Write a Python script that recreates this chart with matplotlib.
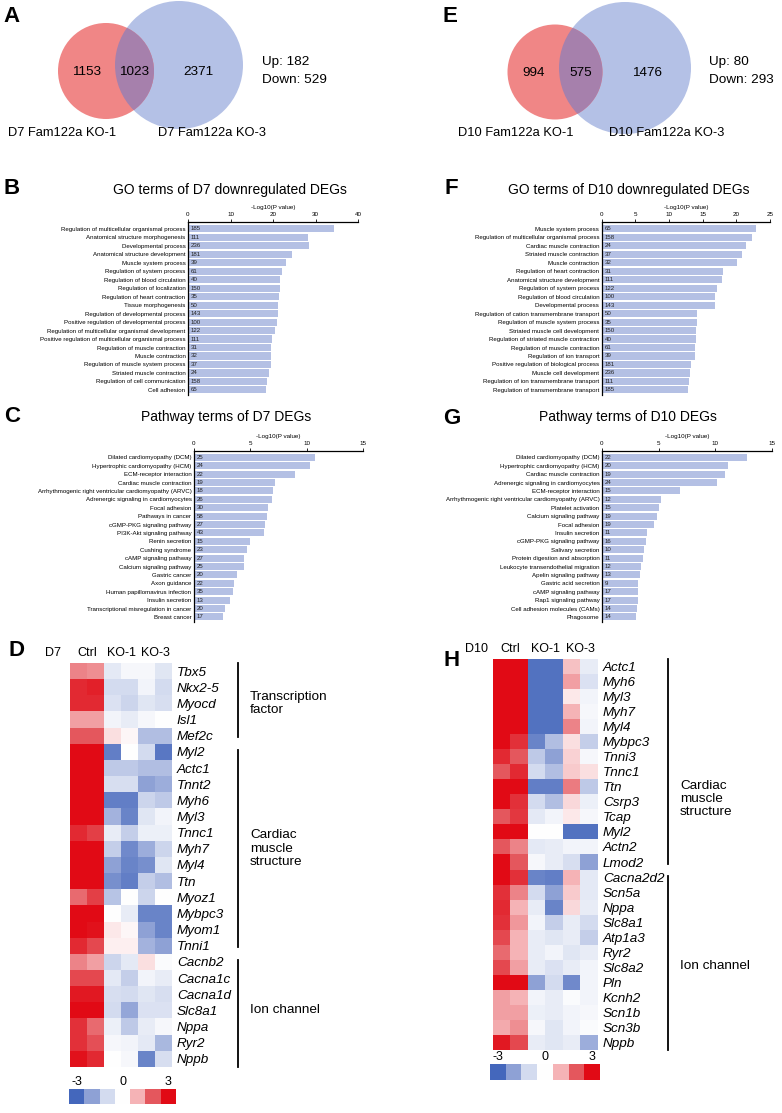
import numpy as np
import matplotlib
matplotlib.use('Agg')
import matplotlib.pyplot as plt
from matplotlib.colors import LinearSegmentedColormap
from matplotlib.patches import Circle

plt.rcParams['font.family'] = ['Liberation Sans', 'DejaVu Sans']

W, H = 782, 1113

# ---- Venn data ----
d7_venn = [1153, 1023, 2371]
d7_names = ['D7 Fam122a KO-1', 'D7 Fam122a KO-3']
d7_updown = [182, 529]
d10_venn = [994, 575, 1476]
d10_names = ['D10 Fam122a KO-1', 'D10 Fam122a KO-3']
d10_updown = [80, 293]

# ---- GO / pathway bars ----
go_d7_terms = ['Regulation of multicellular organismal process', 'Anatomical structure morphogenesis',
               'Developmental process', 'Anatomical structure development', 'Muscle system process',
               'Regulation of system process', 'Regulation of blood circulation', 'Regulation of localization',
               'Regulation of heart contraction', 'Tissue morphogenesis', 'Regulation of developmental process',
               'Positive regulation of developmental process', 'Regulation of multicellular organismal development',
               'Positive regulation of multicellular organismal process', 'Regulation of muscle contraction',
               'Muscle contraction', 'Regulation of muscle system process', 'Striated muscle contraction',
               'Regulation of cell communication', 'Cell adhesion']
go_d7_vals = [34.4, 28.3, 28.5, 24.4, 23.0, 22.0, 21.6, 21.6, 21.5, 21.1,
              21.1, 21.0, 20.5, 19.7, 19.6, 19.5, 19.5, 19.0, 18.6, 18.4]
go_d7_counts = [185, 111, 236, 181, 39, 61, 40, 150, 35, 50,
                143, 100, 122, 111, 31, 32, 37, 24, 158, 65]

go_d10_terms = ['Muscle system process', 'Regulation of multicellular organismal process',
                'Cardiac muscle contraction', 'Striated muscle contraction', 'Muscle contraction',
                'Regulation of heart contraction', 'Anatomical structure development', 'Regulation of system process',
                'Regulation of blood circulation', 'Developmental process',
                'Regulation of cation transmembrane transport', 'Regulation of muscle system process',
                'Striated muscle cell development', 'Regulation of striated muscle contraction',
                'Regulation of muscle contraction', 'Regulation of ion transport',
                'Positive regulation of biological process', 'Muscle cell development',
                'Regulation of ion transmembrane transport', 'Regulation of transmembrane transport']
go_d10_vals = [22.9, 22.4, 21.5, 20.8, 20.05, 18.0, 17.9, 17.1, 16.9, 16.8,
               14.2, 14.2, 13.97, 13.97, 13.9, 13.8, 13.2, 13.1, 13.0, 12.8]
go_d10_counts = [65, 158, 24, 37, 32, 31, 111, 122, 100, 143,
                 50, 35, 150, 40, 61, 39, 181, 236, 111, 185]

pw_d7_terms = ['Dilated cardiomyopathy (DCM)', 'Hypertrophic cardiomyopathy (HCM)', 'ECM-receptor interaction',
               'Cardiac muscle contraction', 'Arrhythmogenic right ventricular cardiomyopathy (ARVC)',
               'Adrenergic signaling in cardiomyocytes', 'Focal adhesion', 'Pathways in cancer',
               'cGMP-PKG signaling pathway', 'PI3K-Akt signaling pathway', 'Renin secretion', 'Cushing syndrome',
               'cAMP signaling pathway', 'Calcium signaling pathway', 'Gastric cancer', 'Axon guidance',
               'Human papillomavirus infection', 'Insulin secretion', 'Transcriptional misregulation in cancer',
               'Breast cancer']
pw_d7_vals = [10.7, 10.3, 8.96, 7.2, 6.98, 6.92, 6.6, 6.45, 6.33, 6.24,
              4.97, 4.73, 4.41, 4.41, 3.82, 3.52, 3.43, 3.17, 2.72, 2.57]
pw_d7_counts = [25, 24, 22, 19, 18, 26, 30, 58, 27, 43, 15, 23, 27, 25, 20, 22, 35, 13, 20, 17]

pw_d10_terms = ['Dilated cardiomyopathy (DCM)', 'Hypertrophic cardiomyopathy (HCM)', 'Cardiac muscle contraction',
                'Adrenergic signaling in cardiomyocytes', 'ECM-receptor interaction',
                'Arrhythmogenic right ventricular cardiomyopathy (ARVC)', 'Platelet activation',
                'Calcium signaling pathway', 'Focal adhesion', 'Insulin secretion', 'cGMP-PKG signaling pathway',
                'Salivary secretion', 'Protein digestion and absorption', 'Leukocyte transendothelial migration',
                'Apelin signaling pathway', 'Gastric acid secretion', 'cAMP signaling pathway',
                'Rap1 signaling pathway', 'Cell adhesion molecules (CAMs)', 'Phagosome']
pw_d10_vals = [12.8, 11.1, 10.87, 10.13, 6.88, 5.2, 5.02, 4.82, 4.6, 3.99,
               3.87, 3.69, 3.63, 3.46, 3.34, 3.19, 3.19, 3.19, 3.1, 2.96]
pw_d10_counts = [22, 20, 19, 24, 15, 12, 15, 19, 19, 11, 16, 10, 11, 12, 13, 9, 17, 17, 14, 14]

# ---- heatmaps (z-scores; Ctrl x2, KO-1 x2, KO-3 x2) ----
hm_cols = ['Ctrl', 'KO-1', 'KO-3']
d7_genes = ['Tbx5', 'Nkx2-5', 'Myocd', 'Isl1', 'Mef2c',
            'Myl2', 'Actc1', 'Tnnt2', 'Myh6', 'Myl3', 'Tnnc1', 'Myh7', 'Myl4', 'Ttn', 'Myoz1', 'Mybpc3',
            'Myom1', 'Tnni1',
            'Cacnb2', 'Cacna1c', 'Cacna1d', 'Slc8a1', 'Nppa', 'Ryr2', 'Nppb']
d7_groups = [('Transcription\nfactor', 5), ('Cardiac\nmuscle\nstructure', 13), ('Ion channel', 7)]
d7_z = [[1.5, 1.4, -0.6, -0.2, -0.2, -0.7],
        [2.6, 2.7, -1.0, -1.0, -0.3, -1.0],
        [2.6, 2.6, -0.8, -1.1, -0.7, -0.9],
        [1.2, 1.2, -0.3, -0.5, -0.2, 0.0],
        [2.0, 2.0, 0.4, 0.1, -1.5, -1.5],
        [3.0, 3.0, -2.6, 0.0, -1.0, -2.7],
        [3.0, 3.0, -1.3, -1.3, -1.5, -1.5],
        [3.0, 3.0, -0.9, -0.9, -2.0, -1.8],
        [3.0, 3.0, -2.6, -2.6, -1.1, -1.3],
        [3.0, 3.0, -1.7, -2.5, -0.7, -0.3],
        [2.6, 2.3, -0.5, -1.2, -0.4, -0.4],
        [3.0, 3.0, -1.2, -2.4, -1.8, -1.1],
        [3.0, 3.0, -2.0, -2.5, -2.3, -0.7],
        [3.0, 3.0, -2.3, -2.6, -1.2, -1.5],
        [1.8, 2.3, -1.4, 0.0, -1.1, 0.0],
        [3.0, 3.0, 0.0, -0.5, -2.5, -2.5],
        [3.0, 2.9, 0.3, 0.1, -2.0, -2.5],
        [2.6, 2.2, 0.2, 0.2, -1.7, -2.0],
        [1.5, 1.2, -1.1, -0.6, 0.4, -0.1],
        [2.2, 2.2, -0.6, -1.2, -0.3, -0.5],
        [2.8, 2.8, -0.9, -1.0, -0.7, -0.9],
        [3.0, 3.0, -1.0, -1.9, -0.8, -0.8],
        [2.5, 1.8, -0.4, -1.3, -0.5, -0.2],
        [2.5, 2.1, -0.2, -0.3, -0.6, -1.6],
        [2.9, 2.6, 0.0, -0.2, -2.5, -0.9]]

d10_genes = ['Actc1', 'Myh6', 'Myl3', 'Myh7', 'Myl4', 'Mybpc3', 'Tnni3', 'Tnnc1', 'Ttn', 'Csrp3', 'Tcap',
             'Myl2', 'Actn2', 'Lmod2',
             'Cacna2d2', 'Scn5a', 'Nppa', 'Slc8a1', 'Atp1a3', 'Ryr2', 'Slc8a2', 'Pln', 'Kcnh2', 'Scn1b',
             'Scn3b', 'Nppb']
d10_groups = [('Cardiac\nmuscle\nstructure', 14), ('Ion channel', 12)]
d10_z = [[3.0, 3.0, -2.8, -2.8, 0.8, -0.5],
         [3.0, 3.0, -2.8, -2.8, 1.2, -0.8],
         [3.0, 3.0, -2.8, -2.8, 0.3, -0.3],
         [3.0, 3.0, -2.8, -2.8, 1.0, -0.2],
         [3.0, 3.0, -2.8, -2.8, 1.5, -0.3],
         [3.0, 2.5, -2.5, -1.5, 0.4, -1.2],
         [2.6, 2.0, -1.3, -2.0, 0.6, -0.2],
         [2.0, 2.6, -1.0, -1.5, 0.7, 0.4],
         [3.0, 3.0, -2.6, -2.6, 1.6, -1.3],
         [3.0, 2.5, -1.0, -1.5, 0.5, -0.4],
         [2.0, 2.4, -0.6, -0.3, 0.3, -0.2],
         [3.0, 3.0, 0.0, 0.0, -2.8, -2.8],
         [2.0, 1.5, -0.6, -0.5, -0.3, -0.3],
         [3.0, 2.0, -0.2, -0.5, -0.9, -2.0],
         [3.0, 2.5, -2.5, -2.6, 1.0, -0.6],
         [2.5, 1.5, -1.0, -2.0, 0.7, -0.6],
         [2.6, 1.0, -0.5, -2.5, 0.5, -0.5],
         [2.5, 1.3, -0.3, -1.2, -0.5, -1.0],
         [2.2, 1.0, -0.5, -0.7, -0.5, -1.2],
         [1.8, 1.0, -0.5, -0.3, -0.7, -0.5],
         [2.2, 1.2, -0.5, -0.8, -0.5, -0.3],
         [3.0, 3.0, -2.0, -1.0, -2.4, -0.3],
         [1.2, 1.0, -0.3, -0.5, -0.1, -0.3],
         [1.2, 1.2, -0.4, -0.5, -0.3, -0.2],
         [1.1, 1.4, -0.2, -0.7, -0.3, -0.1],
         [2.8, 2.2, -0.5, -0.7, -0.5, -1.8]]
scale_vals = [-3, -2, -1, 0, 1, 2, 3]

RED = '#f08686'
BLUE = '#b4c1e6'
PURPLE = '#a680ac'
BAR = '#b4c0e4'
cmap = LinearSegmentedColormap.from_list(
    'bwr_fig', ['#4467bc', '#8fa2d6', '#d3dbef', '#ffffff', '#f5b3b6', '#e5585e', '#e10a15'])

fig = plt.figure(figsize=(W / 100, H / 100), dpi=100)
ov = fig.add_axes([0, 0, 1, 1])
ov.set_xlim(0, W)
ov.set_ylim(H, 0)
ov.axis('off')


def px_axes(x0, y0, x1, y1):
    return fig.add_axes([x0 / W, 1 - y1 / H, (x1 - x0) / W, (y1 - y0) / H])


# panel letters
for lab, (x, y) in zip('ABCDEFGH', [(11, 16), (12, 188), (12, 416), (16, 650),
                                    (450, 17), (451, 188), (452, 418), (452, 660)]):
    ov.text(x, y, lab, fontsize=16, fontweight='bold', ha='center', va='center')


def venn(cr, rr, cb, rb, counts, names, updown, name_x, ud_x):
    blue = Circle(cb, rb, fc=BLUE, ec='none')
    red = Circle(cr, rr, fc=RED, ec='none')
    ov.add_patch(blue)
    ov.add_patch(red)
    both = Circle(cr, rr, fc=PURPLE, ec='none')
    ov.add_patch(both)
    both.set_clip_path(blue)
    ty = cr[1] + 1
    xs = [((cr[0] - rr) + (cb[0] - rb)) / 2, ((cb[0] - rb) + (cr[0] + rr)) / 2,
          ((cr[0] + rr) + (cb[0] + rb)) / 2]
    for x, c in zip(xs, counts):
        ov.text(x, ty, str(c), fontsize=9.7, ha='center', va='center')
    ov.text(name_x[0], 133, names[0], fontsize=9.3, ha='left', va='center')
    ov.text(name_x[1], 133, names[1], fontsize=9.3, ha='left', va='center')
    ov.text(ud_x, 62, 'Up: %d' % updown[0], fontsize=9.7, ha='left', va='center')
    ov.text(ud_x, 80, 'Down: %d' % updown[1], fontsize=9.7, ha='left', va='center')


venn((106, 71), 48, (179, 65), 64, d7_venn, d7_names, d7_updown, (8, 158), 262)
venn((555, 72), 47.5, (625, 68), 66, d10_venn, d10_names, d10_updown, (458, 609), 709)


def bar_panel(x0, x1, y0, y1, title, title_x, title_y, terms, vals, counts, xmax, ticks, ytop):
    ax = px_axes(x0, y0, x1, y1)
    y = np.arange(len(terms))
    ax.barh(y, vals, height=0.84, color=BAR, edgecolor='none')
    ax.set_xlim(0, xmax)
    ax.set_ylim(len(terms) - 0.4, ytop)
    ax.xaxis.tick_top()
    ax.set_xticks(ticks)
    ax.tick_params(axis='x', labelsize=4.5, length=2.5, width=0.6, pad=1.2)
    ax.set_yticks(y)
    ax.set_yticklabels(terms, fontsize=4.4)
    ax.tick_params(axis='y', length=0, pad=1.8)
    for s in ['bottom', 'right']:
        ax.spines[s].set_visible(False)
    for s in ['top', 'left']:
        ax.spines[s].set_linewidth(0.9)
    for yi, c in zip(y, counts):
        ax.annotate(str(c), xy=(0, yi), xytext=(2.2, 0), textcoords='offset points',
                    va='center', ha='left', fontsize=4.4, color='#222222')
    ax.set_xlabel('-Log10(P value)', fontsize=4.5, labelpad=2)
    ax.xaxis.set_label_position('top')
    ov.text(title_x, title_y, title, fontsize=10, ha='center', va='center')


bar_panel(188, 358, 222, 395, 'GO terms of D7 downregulated DEGs', 230, 190,
          go_d7_terms, go_d7_vals, go_d7_counts, 40, [0, 10, 20, 30, 40], -0.8)
bar_panel(601.7, 770, 222, 395, 'GO terms of D10 downregulated DEGs', 629, 190,
          go_d10_terms, go_d10_vals, go_d10_counts, 25, [0, 5, 10, 15, 20, 25], -0.8)
bar_panel(194, 363, 451, 622, 'Pathway terms of D7 DEGs', 226, 417,
          pw_d7_terms, pw_d7_vals, pw_d7_counts, 15, [0, 5, 10, 15], -0.75)
bar_panel(602, 772, 451, 622, 'Pathway terms of D10 DEGs', 628, 417,
          pw_d10_terms, pw_d10_vals, pw_d10_counts, 15, [0, 5, 10, 15], -0.75)


def heatmap(x0, x1, y0, y1, day, genes, z, groups, line_px, label_px, label_shift, cb_box):
    ax = px_axes(x0, y0, x1, y1)
    z = np.array(z)
    nrow, ncol = z.shape
    ax.imshow(z, cmap=cmap, vmin=-3, vmax=3, aspect='auto', interpolation='nearest')
    ax.autoscale(False)
    ax.set_xlim(-0.5, ncol - 0.5)
    ax.set_ylim(nrow - 0.5, -0.5)
    colw = (x1 - x0) / ncol
    rowh = (y1 - y0) / nrow
    ax.set_xticks([])
    ax.yaxis.tick_right()
    ax.set_yticks(np.arange(nrow))
    ax.set_yticklabels(genes, fontsize=9.7, style='italic')
    ax.tick_params(axis='y', length=0, pad=3.5)
    for s in ax.spines.values():
        s.set_visible(False)
    hy = -0.5 - 10 / rowh
    ax.text(-0.5 - 17 / colw, hy, day, fontsize=9, ha='center', va='center', clip_on=False)
    for i, c in enumerate(hm_cols):
        ax.text(2 * i + 0.5, hy, c, fontsize=9, ha='center', va='center', clip_on=False)
    lx = (line_px - x0) / colw - 0.5
    tx = (label_px - x0) / colw - 0.5
    start = 0
    for (name, cnt), sh in zip(groups, label_shift):
        end = start + cnt
        a = -0.5 if start == 0 else start - 0.5 + 0.4
        b = nrow - 0.5 if end == nrow else end - 0.5 - 0.4
        ax.plot([lx, lx], [a, b], color='k', lw=1.3, clip_on=False)
        ax.text(tx, (start + end - 1) / 2 + sh, name, fontsize=9.7, ha='left', va='center',
                linespacing=1.15, clip_on=False)
        start = end
    cx0, cy0, cx1, cy1 = cb_box
    cax = px_axes(cx0, cy0, cx1, cy1)
    cax.imshow(np.array(scale_vals)[None, :], cmap=cmap, vmin=-3, vmax=3, aspect='auto',
               interpolation='nearest')
    cax.axis('off')
    ly = -0.5 - 7 / (cy1 - cy0)
    for v in [-3, 0, 3]:
        cax.text(v + 3, ly, str(v), fontsize=9, ha='center', va='center', clip_on=False)


heatmap(70, 172, 663, 1067, 'D7', d7_genes, d7_z, d7_groups, 238, 250, [0, 0, 0],
        (69, 1089, 176, 1104))
heatmap(493, 598, 659, 1050, 'D10', d10_genes, d10_z, d10_groups, 668, 680, [2.3, 0.4],
        (490, 1064, 600, 1080))

fig.savefig('out.png', dpi=100)
